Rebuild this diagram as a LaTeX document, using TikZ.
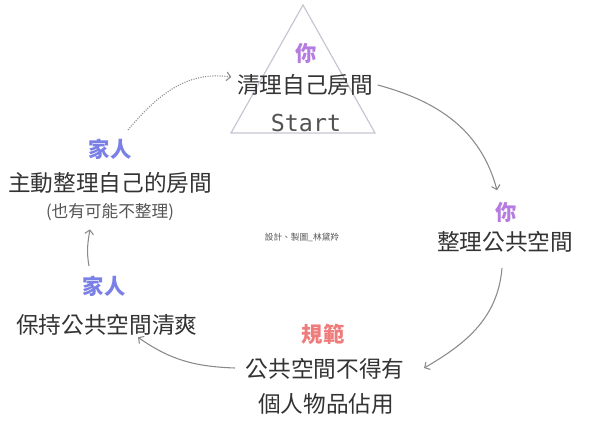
\documentclass[tikz,border=0pt]{standalone}
\usepackage{fontspec}
\usepackage{xcolor}
\usepackage{tikz}
\usetikzlibrary{arrows.meta, positioning, calc}
\setmainfont{Noto Sans CJK TC}
\newfontfamily\startfont{DejaVu Sans Mono}
\definecolor{youpurple}{HTML}{B57BE0}
\definecolor{familyblue}{HTML}{7A80E6}
\definecolor{rulered}{HTML}{F07B7B}
\definecolor{textgray}{HTML}{333333}
\definecolor{notegray}{HTML}{555555}
\definecolor{arrowgray}{HTML}{8A8A8A}
\definecolor{trianglegray}{HTML}{C6C6D4}

\tikzset{
  role/.style={font=\fontsize{16pt}{18pt}\selectfont\bfseries},
  task/.style={text=textgray,font=\fontsize{17pt}{20pt}\selectfont},
  flow/.style={arrowgray,line width=0.8pt,-{Straight Barb[length=3pt,width=6.5pt]}},
}

\begin{document}
\begin{tikzpicture}[x=0.75pt,y=0.75pt]
  \useasboundingbox (0,0) rectangle (600,-425);

  % Start triangle
  \draw[trianglegray,line width=0.9pt](231,-133)--(303,-5)--(375,-133)--cycle;
  \node[role,text=youpurple] (you1) at (306,-53){你};
  \node[task] (clean) at (305,-85){清理自己房間};
  \node[text=textgray!85,font=\startfont\fontsize{17.5pt}{20pt}\selectfont]
    (start) at (306,-123){Start};

  % Right: public space
  \node[role,text=youpurple] (you2) at (506,-212){你};
  \node[task] (pubsp) at (505,-242){整理公共空間};

  % Bottom: house rule
  \node[role,text=rulered] (norm) at (323,-334){規範};
  \node[task] (rulea) at (325,-369){公共空間不得有};
  \node[task] (ruleb) at (326,-404){個人物品佔用};

  % Left: family
  \node[role,text=familyblue] (fam2) at (104,-286){家人};
  \node[task] (keep) at (107,-325){保持公共空間清爽};
  \node[role,text=familyblue] (fam1) at (110,-149){家人};
  \node[task] (tidy) at (110,-183){主動整理自己的房間};
  \node[text=notegray,font=\fontsize{12.5pt}{14pt}\selectfont]
    (note) at (110,-212){(也有可能不整理)};

  % credit line
  \node[text=notegray,font=\fontsize{6.5pt}{8pt}\selectfont]
    (credit) at (302,-237){設計、製圖\_林黛羚};

  % cycle arrows
  \draw[flow](clean.east) to[out=-15,in=105] ($(you2.north)+(-9,7)$);
  \draw[flow]($(pubsp.south)+(-3,-11)$) to[out=-95,in=30] ($(rulea.east)+(15,1)$);
  \draw[flow]($(rulea.west)+(-6,1)$) to[out=178,in=-35] ($(keep.south)+(31,3)$);
  \draw[flow]($(fam2.north)+(-15,5)$) to[out=100,in=-100] ($(note.south)+(-20,-4)$);
  \draw[flow,densely dotted]($(fam1.north)+(18,4)$) to[out=50,in=172] ($(clean.west)+(-1,8)$);
\end{tikzpicture}
\end{document}
